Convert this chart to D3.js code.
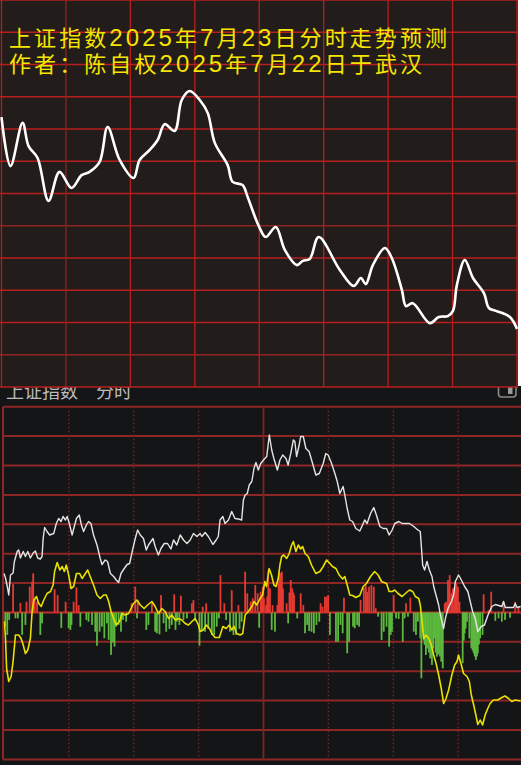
<!DOCTYPE html>
<html><head><meta charset="utf-8">
<script src="https://cdn.jsdelivr.net/npm/d3@7/dist/d3.min.js"></script>
<style>body{margin:0;background:#fff}svg{display:block}</style>
</head><body>
<svg id="c" width="521" height="765"></svg>
<script>
// ---------- DATA ----------
const titleLines = ["上证指数2025年7月23日分时走势预测", "作者：陈自权2025年7月22日于武汉"];
const panelLabel = "上证指数　分时";
// top forecast curve: [minute, index]
const forecast = [[0,3603.7],[4.2,3588.5],[9.8,3601.9],[12.6,3594.7],[16.8,3591.0],[21.9,3577.7],[27.0,3586.7],[32.6,3581.7],[37.3,3585.7],[41.0,3586.7],[45.7,3589.8],[49.4,3600.6],[55.0,3590.4],[61.5,3584.8],[64.3,3590.4],[69.0,3593.5],[72.7,3596.6],[76.0,3601.5],[80.6,3599.4],[83.9,3609.0],[87.6,3611.8],[92.3,3609.0],[96.0,3605.0],[99.3,3595.7],[105.3,3588.8],[107.6,3583.6],[112.3,3582.6],[114.6,3578.9],[119.8,3569.9],[123.0,3566.5],[127.7,3569.6],[131.9,3562.5],[137.5,3557.8],[140.3,3559.1],[143.5,3559.7],[147.7,3566.5],[157.5,3556.3],[164.0,3551.3],[167.3,3553.8],[169.6,3551.9],[172.9,3557.8],[178.5,3563.1],[181.7,3560.0],[186.4,3550.1],[188.3,3545.1],[191.5,3546.0],[199.4,3539.8],[203.6,3541.7],[207.8,3542.0],[210.2,3543.6],[212.0,3551.6],[215.7,3559.4],[219.5,3553.8],[224.6,3549.1],[226.9,3544.5],[230.2,3543.6],[236.7,3541.7],[240,3538.0]];
// bottom actual index (white): [minute, index]
const indexLine = [[0,3592.5],[0.7,3591.6],[1.5,3589.9],[2.2,3588.2],[3.0,3592.2],[4.2,3592.6],[4.8,3594.9],[6.1,3596.9],[6.8,3597.2],[7.6,3595.6],[8.9,3596.9],[9.9,3595.9],[11.0,3596.9],[12.2,3595.6],[13.5,3596.6],[14.5,3597.0],[15.6,3595.6],[16.8,3595.4],[17.6,3595.9],[18.1,3599.5],[18.8,3601.7],[19.9,3600.9],[21.1,3600.2],[23.0,3600.5],[24.2,3602.5],[25.3,3603.5],[26.4,3602.9],[27.3,3603.9],[28.4,3603.2],[29.2,3603.9],[30.2,3602.5],[31.5,3600.2],[32.5,3601.9],[33.5,3603.5],[34.8,3604.2],[35.8,3602.2],[36.8,3600.9],[38.1,3602.2],[39.1,3602.9],[40.2,3602.5],[41.4,3600.2],[43.0,3598.2],[44.5,3595.5],[45.3,3594.3],[46.8,3595.2],[47.9,3594.9],[49.2,3592.5],[50.7,3591.9],[51.9,3591.2],[53.0,3590.7],[54.1,3592.5],[55.6,3593.5],[56.9,3594.3],[58.1,3594.5],[59.6,3597.5],[60.7,3599.5],[61.8,3601.2],[63.0,3600.2],[64.5,3599.5],[65.8,3597.2],[66.8,3598.2],[68.9,3599.5],[69.9,3597.9],[71.4,3596.2],[72.6,3597.5],[74.1,3598.5],[75.6,3598.5],[77.2,3597.4],[78.4,3599.2],[79.9,3598.2],[81.5,3600.2],[83.0,3599.2],[84.6,3598.5],[86.1,3599.2],[87.6,3600.5],[89.2,3599.9],[90.7,3600.5],[91.5,3599.9],[93.0,3600.7],[94.5,3599.9],[96.6,3598.3],[98.1,3599.2],[99.1,3599.9],[99.9,3603.2],[101.2,3603.9],[102.2,3602.5],[103.8,3603.2],[105.3,3604.9],[106.8,3603.5],[108.4,3603.4],[109.9,3603.2],[110.7,3607.2],[111.5,3608.2],[112.5,3608.5],[113.4,3610.2],[114.6,3610.9],[115.6,3613.5],[116.5,3614.7],[117.6,3613.2],[118.7,3614.5],[120,3615.2],[121.5,3615.9],[122.7,3620.2],[123.8,3617.2],[124.8,3615.5],[126.4,3613.2],[127.6,3615.2],[128.9,3616.2],[130.4,3615.5],[131.4,3614.2],[132.6,3616.5],[133.8,3619.2],[134.5,3618.9],[135.3,3615.9],[136.5,3618.2],[137.2,3619.9],[138.4,3619.9],[139.6,3617.5],[141.1,3616.9],[142.7,3614.5],[144.2,3612.2],[145.8,3612.5],[147.6,3614.5],[148.8,3616.5],[149.9,3616.2],[151.5,3614.5],[153.0,3612.5],[154.1,3610.9],[155.3,3608.5],[156.8,3609.9],[157.6,3608.2],[158.7,3605.5],[159.9,3603.2],[161.2,3602.9],[162.7,3601.5],[164.5,3601.0],[165.8,3602.2],[166.8,3603.2],[167.9,3602.5],[169.5,3604.5],[171.0,3605.7],[172.2,3604.2],[173.8,3601.9],[175.3,3601.5],[176.9,3601.5],[178.1,3600.2],[179.5,3601.2],[180.7,3602.5],[182.6,3602.9],[184.1,3602.5],[185.6,3602.5],[187.5,3602.5],[189.5,3601.9],[191.4,3601.2],[192.5,3600.9],[193.0,3597.9],[193.6,3594.2],[194.5,3593.2],[195.6,3594.9],[196.7,3593.2],[197.9,3591.9],[198.7,3589.9],[200.2,3587.5],[201.0,3586.2],[201.8,3584.2],[202.5,3582.9],[203.3,3581.5],[204.1,3583.5],[205.3,3585.5],[206.9,3586.9],[207.9,3588.2],[208.7,3590.9],[210.2,3592.2],[211.5,3591.2],[213.0,3589.9],[214.5,3588.9],[215.6,3586.9],[216.7,3584.9],[217.9,3583.5],[219.1,3580.9],[220.7,3581.9],[222.2,3582.2],[223.8,3584.2],[225.6,3585.9],[227.2,3586.3],[230.2,3585.9],[231.0,3586.9],[231.8,3585.7],[235.6,3585.7],[236.4,3586.5],[237.2,3585.7],[238.9,3585.9]];
// bottom leading line (yellow): [minute, index]
const leadLine = [[0.2,3582.9],[0.7,3579.5],[1.2,3573.5],[2.2,3570.9],[3.3,3571.9],[4.2,3574.9],[5.3,3580.2],[6.8,3580.2],[7.9,3579.5],[8.9,3578.2],[9.9,3576.5],[11.0,3577.2],[12.2,3579.5],[13.0,3584.9],[13.8,3587.2],[15.0,3587.9],[16.1,3586.5],[17.2,3585.9],[18.4,3587.2],[19.9,3588.5],[21.5,3588.9],[22.7,3590.2],[23.4,3592.9],[24.6,3594.7],[25.8,3593.2],[26.9,3593.9],[27.9,3592.9],[28.8,3594.2],[29.9,3592.2],[31.0,3589.5],[32.2,3589.9],[33.5,3592.5],[35.0,3592.5],[36.1,3591.5],[37.2,3592.2],[38.7,3593.2],[40.2,3591.5],[41.4,3590.2],[43.0,3588.2],[44.5,3587.5],[46.1,3588.2],[47.3,3588.2],[48.4,3586.9],[49.5,3584.9],[50.7,3583.5],[51.9,3582.2],[53.4,3582.9],[54.6,3584.5],[56.1,3584.2],[57.6,3584.5],[59.2,3585.9],[59.9,3586.5],[61.5,3587.2],[63.0,3586.2],[64.8,3585.5],[66.4,3586.2],[68.4,3586.9],[69.9,3585.9],[71.4,3584.5],[73.0,3585.5],[74.5,3584.9],[76.1,3583.5],[77.6,3584.2],[79.2,3583.2],[80.7,3583.5],[82.2,3583.2],[83.8,3582.5],[85.3,3582.2],[86.9,3582.9],[88.4,3583.5],[89.9,3582.2],[90.7,3580.9],[92.2,3581.2],[93.5,3582.2],[95.0,3581.5],[96.1,3580.5],[97.6,3579.7],[99.6,3579.7],[101.2,3581.9],[102.7,3581.5],[104.2,3582.2],[105.3,3581.2],[106.4,3581.9],[107.6,3580.5],[109.2,3580.2],[110.4,3580.5],[111.5,3584.2],[113.0,3584.9],[114.6,3585.9],[115.6,3586.9],[116.9,3586.2],[118.4,3587.5],[119.6,3588.2],[120.6,3590.9],[121.4,3589.9],[122.6,3593.5],[123.7,3592.2],[124.8,3590.2],[125.8,3589.9],[126.8,3591.5],[127.6,3594.2],[128.4,3595.9],[129.4,3596.2],[130.7,3595.5],[131.9,3596.5],[133.0,3598.2],[133.8,3598.9],[135.0,3596.9],[136.1,3598.2],[137.2,3597.4],[138.1,3597.9],[139.2,3596.5],[140.7,3595.9],[142.2,3594.2],[144.2,3592.5],[146.1,3592.9],[147.6,3593.9],[149.2,3595.2],[150.7,3594.5],[151.9,3593.9],[153.5,3593.5],[155.0,3592.2],[156.6,3591.4],[157.6,3591.9],[158.7,3590.2],[159.9,3588.2],[161.2,3588.1],[162.7,3587.7],[164.5,3588.1],[166.1,3589.9],[167.6,3590.5],[169.5,3591.9],[171.4,3592.9],[173.0,3592.2],[174.6,3590.9],[176.9,3590.5],[178.1,3588.9],[179.5,3588.9],[180.7,3589.2],[182.2,3588.5],[184.1,3587.9],[185.6,3588.5],[187.5,3589.2],[189.0,3588.9],[190.2,3587.9],[191.8,3587.5],[192.5,3586.2],[193.3,3582.9],[194.1,3579.5],[195.1,3580.2],[196.4,3579.5],[197.6,3578.2],[198.7,3576.2],[199.8,3574.5],[201.0,3572.2],[202.2,3569.5],[203.3,3566.5],[204.4,3567.5],[205.6,3569.2],[207.1,3572.2],[208.4,3574.2],[209.5,3574.9],[210.2,3576.2],[211.5,3574.2],[212.5,3572.5],[214.1,3571.9],[215.2,3570.9],[216.1,3568.2],[217.2,3566.2],[218.2,3564.2],[219.1,3562.3],[220.2,3563.2],[221.3,3562.2],[222.5,3564.2],[223.7,3565.5],[224.8,3566.5],[226.3,3567.2],[228.3,3567.2],[230.2,3567.7],[231.7,3568.0],[233.3,3567.5],[234.8,3566.9],[236.4,3567.2],[238.9,3567.0]];
// buying (red) / selling (green) power bars: [minute, value]
const redBars = [[4.2,14.2],[7.6,4.8],[10.4,5.4],[11.9,12.9],[13.0,15.4],[13.5,19.6],[14.2,7.1],[15.3,5.4],[23.4,11.7],[24.8,8.7],[28.5,5.4],[32.2,5.4],[33.5,12.5],[34.5,3.7],[59.0,4.7],[60.7,12.9],[61.8,5.4],[68.4,4.6],[72.6,8.7],[78.7,9.1],[81.8,8.4],[86.9,4.6],[87.6,6.2],[91.9,2.9],[93.5,4.6],[100.1,18.7],[101.9,4.6],[105.3,11.2],[108.4,3.7],[111.5,20.4],[112.5,9.6],[114.1,5.4],[115.0,7.1],[116.2,13.7],[117.3,9.6],[118.7,10.4],[119.0,9.0],[119.6,12.9],[120.2,7.1],[121.2,3.7],[121.7,8.0],[122.2,21.2],[123.0,12.1],[124.2,3.7],[126.4,3.7],[127.0,15.0],[127.3,20.4],[127.9,19.6],[128.5,20.4],[129.0,12.0],[130.7,4.6],[132.0,10.0],[132.6,16.2],[133.3,12.1],[133.8,10.0],[134.1,8.7],[137.2,9.6],[138.4,3.7],[146.4,4.6],[147.3,2.9],[148.4,7.9],[149.2,7.9],[149.9,8.7],[157.2,7.4],[164.9,6.2],[166.4,12.4],[167.3,13.7],[167.9,10.4],[168.8,12.9],[169.9,13.7],[171.0,12.9],[171.9,2.1],[180.2,8.7],[185.9,4.6],[187.9,7.4],[203.8,4.6],[204.4,5.4],[205.3,16.2],[205.7,12.0],[206.1,18.7],[206.9,9.6],[207.2,10.0],[207.6,12.1],[208.4,11.2],[208.8,13.0],[209.2,14.6],[209.9,12.9],[210.6,5.4],[221.8,9.1],[224.1,1.2],[225.3,10.4],[231.0,5.4],[236.4,5.4],[237.9,2.9]];
const greenBars = [[0.6,-7.1],[1.5,-11.2],[2.4,-3.7],[5.3,-2.9],[6.4,-2.9],[8.4,-11.2],[9.9,-6.2],[16.8,-11.2],[17.6,-5.4],[26.5,-7.7],[29.9,-7.9],[30.7,-8.7],[31.2,-6.2],[35.3,-7.1],[38.1,-3.7],[39.1,-4.6],[40.7,-6.2],[42.2,-9.6],[43.0,-16.6],[44.2,-9.6],[45.3,-7.1],[46.4,-12.9],[47.6,-5.4],[48.4,-13.7],[49.5,-21.2],[50.4,-15.0],[51.1,-17.1],[51.9,-7.1],[53.0,-6.2],[54.1,-9.6],[55.0,-3.7],[56.5,-4.6],[61.5,-2.9],[65.8,-8.7],[66.8,-6.2],[69.9,-9.6],[70.7,-10.4],[71.9,-10.9],[73.8,-5.4],[75.0,-9.6],[76.5,-8.2],[77.6,-6.2],[79.3,-8.7],[80.0,-4.6],[81.1,-6.2],[83.0,-3.7],[84.6,-2.9],[88.4,-4.2],[90.4,-16.6],[91.5,-8.7],[93.0,-9.6],[94.5,-8.2],[96.1,-11.2],[97.2,-11.2],[98.4,-7.1],[99.4,-2.9],[102.7,-3.7],[104.5,-9.6],[106.1,-11.2],[107.3,-11.2],[108.9,-8.2],[109.9,-4.6],[118.0,-7.6],[123.8,-8.7],[125.3,-9.6],[131.4,-5.4],[135.6,-2.9],[139.2,-10.4],[140.2,-6.2],[141.1,-9.2],[142.2,-9.6],[143.3,-10.4],[144.5,-6.2],[145.8,-4.6],[150.7,-11.2],[153.5,-14.6],[154.5,-14.6],[155.6,-6.2],[156.6,-10.4],[158.7,-20.4],[159.6,-14.6],[161.4,-7.1],[162.2,-7.9],[163.3,-6.2],[164.2,-7.1],[173.0,-2.1],[174.6,-13.7],[175.6,-9.6],[176.9,-7.1],[178.1,-17.1],[178.8,-11.2],[179.4,-9.6],[181.3,-2.9],[182.5,-3.2],[184.4,-14.6],[185.3,-2.9],[186.8,-2.1],[189.5,-9.6],[190.5,-11.2],[191.4,-4.6],[192.5,-12.9],[193.0,-32.9],[193.6,-9.6],[194.0,-14.0],[194.5,-16.2],[195.1,-21.2],[195.6,-18.0],[196.0,-12.9],[196.5,-20.0],[197.1,-22.9],[197.9,-26.2],[198.5,-18.0],[199.1,-12.9],[199.6,-20.0],[200.2,-22.1],[200.7,-21.0],[201.0,-20.4],[201.6,-22.0],[202.2,-24.6],[202.9,-27.9],[212.1,-25.4],[212.6,-14.0],[213.0,-10.4],[213.5,-8.0],[214.1,-4.6],[215.2,-12.9],[216.1,-17.9],[216.7,-19.0],[217.2,-20.4],[217.7,-22.0],[218.2,-23.7],[218.7,-22.0],[219.1,-20.4],[219.6,-16.0],[220.2,-12.9],[221.3,-11.2],[227.2,-4.2],[228.7,-2.9],[230.2,-4.6],[231.7,-3.7],[234.0,-2.6]];
const gridMinutes = [30, 60, 90, 120, 150, 180, 210];

// ---------- DRAW ----------
const svg = d3.select("#c");
const FONT = "'Noto Sans CJK SC','Noto Sans',sans-serif";
const TFONT = "'Liberation Sans','Noto Sans CJK SC',sans-serif";

// ===== bottom panel (real-time chart) =====
const gB = svg.append("g");
gB.append("rect").attr("x",0).attr("y",386).attr("width",521).attr("height",379).attr("fill","#141517");
gB.append("text").attr("x",6).attr("y",398).attr("fill","#bcbcbc").attr("font-size",18)
  .attr("font-family",FONT).text(panelLabel);
gB.append("rect").attr("x",498.5).attr("y",381).attr("width",17.5).attr("height",16).attr("rx",3)
  .attr("fill","none").attr("stroke","#8a8a8a").attr("stroke-width",1.6);
gB.append("rect").attr("x",508).attr("y",383).attr("width",4.5).attr("height",11).attr("fill","#9a9a9a");

const xB = d3.scaleLinear().domain([0,240]).range([4,523]);
const yB = d3.scaleLinear().domain([3540,3620]).range([836,436]);
const yBar = d3.scaleLinear().domain([-50,50]).range([712.5,512.5]);
const rowY = d3.scaleLinear().domain([0,12]).range([406.7,759.4]);

gB.append("g").selectAll("line").data(d3.range(13)).join("line")
  .attr("x1",3).attr("x2",521).attr("y1",d=>rowY(d)).attr("y2",d=>rowY(d))
  .attr("stroke",d=>d===7?"#c62a28":"#8e2626").attr("stroke-width",2);
gB.append("g").selectAll("line").data(gridMinutes).join("line")
  .attr("x1",d=>xB(d)).attr("x2",d=>xB(d)).attr("y1",rowY(0)).attr("y2",rowY(12))
  .attr("stroke","#7e2323").attr("stroke-width",d=>d===120?1.8:1.4)
  .attr("stroke-dasharray",d=>d===120?null:"1.5,2.5");
gB.append("line").attr("x1",3).attr("x2",3).attr("y1",rowY(0)).attr("y2",rowY(12))
  .attr("stroke","#8e2626").attr("stroke-width",2);

gB.append("g").selectAll("rect").data(redBars).join("rect")
  .attr("x",d=>xB(d[0])-0.9).attr("width",1.8)
  .attr("y",d=>yBar(d[1])).attr("height",d=>yBar(0)-yBar(d[1])).attr("fill","#e53a32");
gB.append("g").selectAll("rect").data(greenBars).join("rect")
  .attr("x",d=>xB(d[0])-0.9).attr("width",1.8)
  .attr("y",yBar(0)).attr("height",d=>yBar(d[1])-yBar(0)).attr("fill","#5cb83e");

const lineB = d3.line().x(d=>xB(d[0])).y(d=>yB(d[1]));
gB.append("path").datum(leadLine).attr("d",lineB).attr("fill","none")
  .attr("stroke","#e9e000").attr("stroke-width",1.6).attr("stroke-linejoin","round");
gB.append("path").datum(indexLine).attr("d",lineB).attr("fill","none")
  .attr("stroke","#e4e4e4").attr("stroke-width",1.4).attr("stroke-linejoin","round");

// ===== top panel (forecast) =====
const gT = svg.append("g");
gT.append("rect").attr("x",0).attr("y",0).attr("width",518).attr("height",387).attr("fill","#221c1a");
const xT = d3.scaleLinear().domain([0,240]).range([1.5,517]);
const yT = d3.scaleLinear().domain([3520,3640]).range([387,0]);
gT.append("g").selectAll("line").data(d3.range(3520,3641,10)).join("line")
  .attr("x1",0).attr("x2",518).attr("y1",d=>yT(d)).attr("y2",d=>yT(d))
  .attr("stroke",(d,i)=>(i===5||i===1)?"#8f2420":"#b71f1e").attr("stroke-width",1.3);
gT.append("g").selectAll("line").data(d3.range(0,241,30)).join("line")
  .attr("x1",d=>xT(d)).attr("x2",d=>xT(d)).attr("y1",0).attr("y2",387)
  .attr("stroke",(d,i)=>(i===1)?"#8f2420":"#b71f1e").attr("stroke-width",1.3);
svg.append("clipPath").attr("id","topclip").append("rect").attr("x",0).attr("y",0).attr("width",518).attr("height",387);
gT.append("path").datum(forecast).attr("clip-path","url(#topclip)")
  .attr("d",d3.line().x(d=>xT(d[0])).y(d=>yT(d[1])).curve(d3.curveCatmullRom.alpha(0.5)))
  .attr("fill","none").attr("stroke","#ffffff").attr("stroke-width",2.6).attr("stroke-linejoin","round");

const titleLen = [438, 413];
titleLines.forEach((s, i) => {
  const t = gT.append("text").attr("x",9).attr("y",45.5+i*26).attr("fill","#f6e500")
    .attr("font-family",TFONT).attr("font-size",22)
    .attr("textLength",titleLen[i]).attr("lengthAdjust","spacing");
  t.selectAll("tspan").data(s.match(/\d+|\D+/g)).join("tspan")
    .attr("font-size",d=>/\d/.test(d)?24:22)
    .text(d=>d);
});
</script>
</body></html>
